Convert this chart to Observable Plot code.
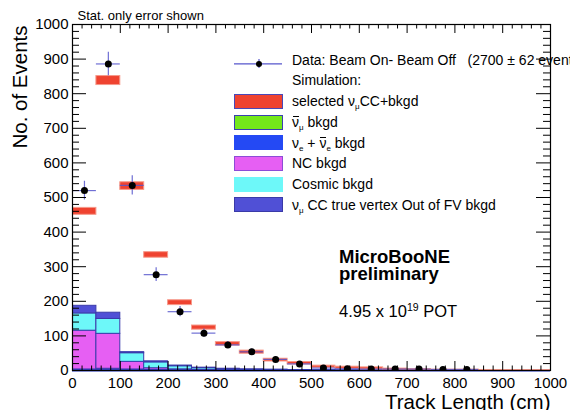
<!DOCTYPE html>
<html>
<head>
<meta charset="utf-8">
<script src="https://cdn.jsdelivr.net/npm/d3@7"></script>
<script src="https://cdn.jsdelivr.net/npm/@observablehq/plot@0.6"></script>
<style>
  body { margin: 0; background: #fff; }
  #wrap { position: relative; width: 570px; height: 410px; overflow: hidden;
          font-family: "Liberation Sans", Arial, Helvetica, sans-serif; color: #000; }
  #wrap > svg { position: absolute; left: 0; top: 0; }
  .legend { position: absolute; left: 234px; top: 49.8px; }
  .row { display: flex; align-items: center; height: 20.7px; font-size: 14px; line-height: 20.7px; white-space: pre; }
  .sw { width: 49px; height: 15px; box-sizing: border-box; margin-right: 9px; flex: none; }
  .nosw { width: 58px; flex: none; }
  .sub { font-size: 8px; line-height: 0; position: relative; top: 3px; }
  .bar { position: relative; display: inline-block; line-height: 1; }
  .bar::before { content: ""; position: absolute; left: 1px; right: 0px; top: 1px; border-top: 1.2px solid #000; }
  .note { position: absolute; left: 339px; white-space: pre; }
  .brand { top: 247.8px; font-size: 18.5px; line-height: 17.5px; font-weight: bold; }
  .pot { top: 302px; font-size: 16.5px; line-height: 18px; }
  .sup { font-size: 10.5px; position: relative; top: -6px; line-height: 0; }
</style>
</head>
<body>
<div id="wrap"></div>
<script>
// Track length histogram, 50 cm bins
const binStart = [0, 50, 100, 150, 200, 250, 300, 350, 400, 450, 500, 550, 600, 650, 700, 750, 800, 850, 900, 950];
const binWidth = 50;

// Beam On - Beam Off data with statistical errors
const dataEvents  = [520, 886, 535, 277, 170, 108, 74, 54, 32, 19, 7, 5, 4, 4, 4, 3, 3, null, null, null];
const dataStatErr = [27, 34, 28, 20, 15, 12, 10, 8, 7, 6, 4, 4, 3, 3, 3, 3, 3, null, null, null];

// Simulation: selected numu CC + background, with MC statistical error band
const mcTotal   = [460, 838, 533, 334, 196, 124, 77, 53, 30, 21, 11, 8, 6, 3, 2, 1, 1, 0.5, 0.3, 0.2];
const mcStatErr = [10, 13, 11, 8, 7, 6, 5, 4.5, 4, 3.5, 3, 3, 3, 2.5, 2, 1.5, 1.5, 1, 1, 1];

// Background components (stacked from the bottom up)
const numubarBkgd = [1, 1, 1, 1, 1, 0.5, 0.5, 0.3, 0.2, 0.1, 0, 0, 0, 0, 0, 0, 0, 0, 0, 0];
const nueBkgd     = [2, 4, 2, 0.5, 0.3, 0.2, 0.1, 0, 0, 0, 0, 0, 0, 0, 0, 0, 0, 0, 0, 0];
const ncBkgd      = [112, 101, 22, 5, 2, 1, 0.5, 0.3, 0.2, 0.1, 0, 0, 0, 0, 0, 0, 0, 0, 0, 0];
const cosmicBkgd  = [50, 43, 25, 17, 9, 5, 3, 2, 1.5, 1, 0.5, 0.5, 0.3, 0.2, 0.1, 0, 0, 0, 0, 0];
const outFVBkgd   = [22, 18, 3, 3, 2, 1.5, 1, 0.5, 0.3, 0.2, 0.1, 0, 0, 0, 0, 0, 0, 0, 0, 0];

const layerNames  = ["numubar", "nue", "nc", "cosmic", "outFV"];
const layerValues = [numubarBkgd, nueBkgd, ncBkgd, cosmicBkgd, outFVBkgd];
const layerColors = ["#74e81b", "#2449f4", "#e65ff3", "#6df8f9", "#5050d6"];

// Axis ticks
const xTicks = [0, 100, 200, 300, 400, 500, 600, 700, 800, 900, 1000];
const yTicks = [0, 100, 200, 300, 400, 500, 600, 700, 800, 900, 1000];
const minorStep = 20;

// Legend entries
const legendText = [
  "selected ν<span class=\"sub\">μ</span>CC+bkgd",
  "<span class=\"bar\">ν</span><span class=\"sub\">μ</span> bkgd",
  "ν<span class=\"sub\">e</span> + <span class=\"bar\">ν</span><span class=\"sub\">e</span> bkgd",
  "NC bkgd",
  "Cosmic bkgd",
  "ν<span class=\"sub\">μ</span> CC true vertex Out of FV bkgd"
];
const legendFill   = ["#ef4330", "#74e81b", "#2449f4", "#e65ff3", "#6df8f9", "#5050d6"];
const legendBorder = ["#4a48b8", "#3a40b0", "#2449f4", "#8d4cd6", "#6df8f9", "#3a3aa8"];

const dataLabel = "Data: Beam On- Beam Off   (2700 ± 62 events)";
const xTitle = "Track Length (cm)";
const yTitle = "No. of Events";
const statNote = "Stat. only error shown";

// Table rows
const bins = binStart.map((x1, i) => ({
  x1, x2: x1 + binWidth, mid: x1 + binWidth / 2,
  data: dataEvents[i], dataErr: dataStatErr[i],
  mc: mcTotal[i], mcErr: mcStatErr[i]
}));
const stackRows = layerNames.flatMap((layer, l) =>
  binStart.map((x1, i) => ({x1, x2: x1 + binWidth, layer, value: layerValues[l][i]}))
);
const dataRows = bins.filter(d => d.data != null);

const innerH = 410 - 24 - 40;
const innerW = 570 - 72 - 20;
const isMajor = v => v % 100 === 0;
const xMinor = d3.range(0, 1001, minorStep).filter(v => !isMajor(v));
const yMinor = d3.range(0, 1001, minorStep).filter(v => !isMajor(v));
const errColor = "#5656cc";

const chart = Plot.plot({
  width: 570,
  height: 410,
  marginLeft: 72,
  marginRight: 20,
  marginTop: 24,
  marginBottom: 40,
  style: {fontFamily: '"Liberation Sans", Arial, Helvetica, sans-serif', background: "transparent", color: "#000"},
  x: {domain: [0, 1000]},
  y: {domain: [0, 1000]},
  color: {domain: layerNames, range: layerColors},
  marks: [
    // stacked backgrounds
    Plot.rectY(stackRows, {x1: "x1", x2: "x2", y: "value", fill: "layer", z: "layer",
      stroke: "#3b3bab", strokeWidth: 1, clip: true}),
    Plot.ruleY([0], {stroke: "#2a3fd0", strokeWidth: 2}),
    // MC total with statistical error band
    Plot.rectY(bins, {x1: "x1", x2: "x2", y1: d => d.mc - d.mcErr, y2: d => d.mc + d.mcErr,
      fill: "#ef4330", stroke: "#f6998a", strokeWidth: 1, clip: true}),
    // data points with error bars
    Plot.ruleY(dataRows, {y: "data", x1: "x1", x2: "x2", stroke: errColor, strokeWidth: 1.2, strokeOpacity: 0.85, clip: true}),
    Plot.ruleX(dataRows, {x: "mid", y1: d => d.data - d.dataErr, y2: d => d.data + d.dataErr,
      stroke: errColor, strokeWidth: 1.2, strokeOpacity: 0.85, clip: true}),
    Plot.dot(dataRows, {x: "mid", y: "data", r: 3.5, fill: "black", stroke: "none", clip: true}),
    // inward ticks on all four sides
    Plot.tickX(xTicks, {x: d => d, insetTop: innerH - 9, stroke: "black"}),
    Plot.tickX(xMinor, {x: d => d, insetTop: innerH - 4.5, stroke: "black"}),
    Plot.tickX(xTicks, {x: d => d, insetBottom: innerH - 9, stroke: "black"}),
    Plot.tickX(xMinor, {x: d => d, insetBottom: innerH - 4.5, stroke: "black"}),
    Plot.tickY(yTicks, {y: d => d, insetRight: innerW - 14, stroke: "black"}),
    Plot.tickY(yMinor, {y: d => d, insetRight: innerW - 7, stroke: "black"}),
    Plot.tickY(yTicks, {y: d => d, insetLeft: innerW - 14, stroke: "black"}),
    Plot.tickY(yMinor, {y: d => d, insetLeft: innerW - 7, stroke: "black"}),
    Plot.axisX({ticks: xTicks, tickSize: 0, tickPadding: 7, fontSize: 15, label: null, tickFormat: String}),
    Plot.axisY({ticks: yTicks, tickSize: 0, tickPadding: 4, fontSize: 15, label: null, tickFormat: String}),
    Plot.frame({stroke: "black", strokeWidth: 1.2}),
    // titles
    Plot.text([xTitle], {frameAnchor: "bottom-right", textAnchor: "end", lineAnchor: "bottom",
      dy: 38.5, fontSize: 20.5, text: d => d, fill: "black"}),
    Plot.text([yTitle], {frameAnchor: "top-left", textAnchor: "end", lineAnchor: "bottom", rotate: -90,
      dx: -46, dy: 1, fontSize: 20.5, text: d => d, fill: "black"}),
    Plot.text([statNote], {frameAnchor: "top-left", textAnchor: "start", lineAnchor: "bottom",
      dx: 5, dy: -5, fontSize: 13, text: d => d, fill: "black"})
  ]
});

const wrap = document.getElementById("wrap");
wrap.appendChild(chart);

// legend block
const legend = document.createElement("div");
legend.className = "legend";
const dataRow = document.createElement("div");
dataRow.className = "row";
dataRow.innerHTML =
  `<svg class="sw" width="49" height="15" style="margin-right:9px">` +
  `<line x1="0" x2="48" y1="10.9" y2="10.9" stroke="${errColor}" stroke-width="1.2"/>` +
  `<line x1="25" x2="25" y1="6" y2="15" stroke="${errColor}" stroke-width="1.2"/>` +
  `<circle cx="25" cy="10.9" r="3" fill="black"/></svg><span></span>`;
dataRow.lastChild.textContent = dataLabel;
dataRow.firstChild.style.overflow = "visible";
legend.appendChild(dataRow);
const simRow = document.createElement("div");
simRow.className = "row";
simRow.innerHTML = `<span class="nosw"></span><span>Simulation:</span>`;
legend.appendChild(simRow);
legendText.forEach((t, i) => {
  const r = document.createElement("div");
  r.className = "row";
  r.innerHTML = `<span class="sw" style="background:${legendFill[i]};border:1.5px solid ${legendBorder[i]}"></span><span>${t}</span>`;
  legend.appendChild(r);
});
wrap.appendChild(legend);

// experiment label and exposure
const brand = document.createElement("div");
brand.className = "note brand";
brand.textContent = "MicroBooNE\npreliminary";
wrap.appendChild(brand);
const pot = document.createElement("div");
pot.className = "note pot";
pot.innerHTML = `4.95 x 10<span class="sup">19</span> POT`;
wrap.appendChild(pot);
</script>
</body>
</html>
